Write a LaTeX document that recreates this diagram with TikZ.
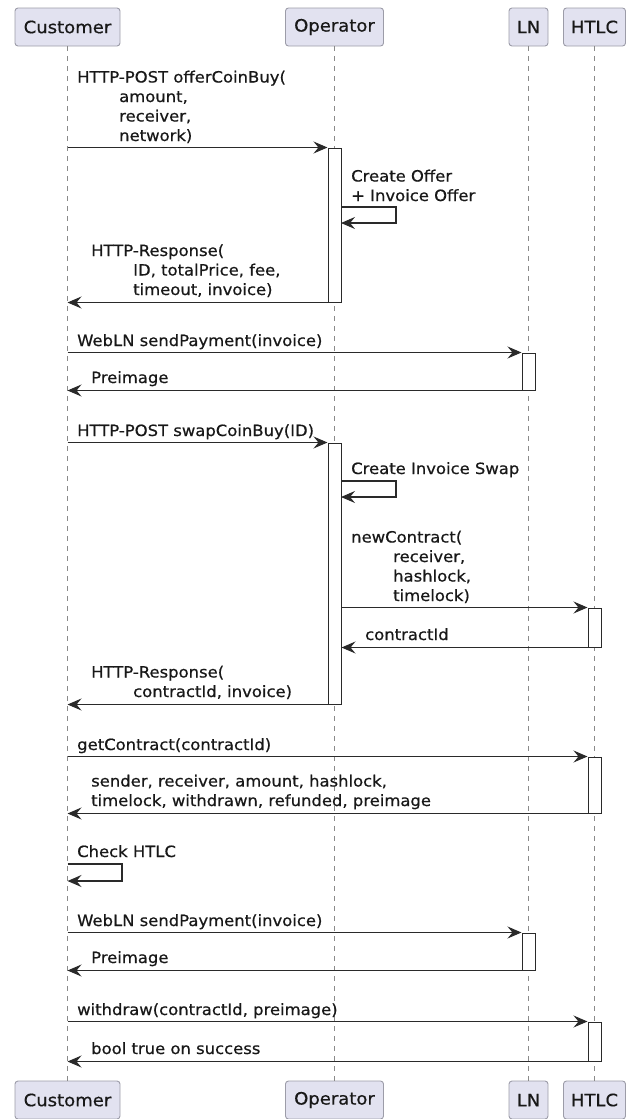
\documentclass[tikz,border=0pt]{standalone}
\usepackage{fontspec}
\setmainfont[FakeStretch=1.06, FakeBold=0.6]{DejaVu Sans}
\usetikzlibrary{arrows.meta,fit}

\definecolor{partfill}{HTML}{E2E2F0}
\definecolor{partline}{HTML}{9C9CA8}
\definecolor{ink}{HTML}{181818}
\definecolor{wire}{HTML}{2A2A2A}
\definecolor{lifegray}{HTML}{8A8A8A}

% stacked message lines; the baseline is that of the first line
\newcommand\msglines[1]{\vtop{\let\\\cr\halign{##\hfil\cr#1\crcr}}}
\newcommand\ind{\hspace*{42pt}}

\tikzset{
  part/.style={draw=partline, fill=partfill, rounded corners=3pt, line width=0.9pt,
    minimum height=38pt, inner sep=0pt, text=ink, font=\fontsize{17}{20}\selectfont},
  life/.style={draw=lifegray, line width=0.8pt, dash pattern=on 5pt off 5pt},
  actbar/.style={draw=wire, fill=white, line width=1pt, inner sep=0pt},
  msg/.style={draw=wire, line width=1.1pt, -{Stealth[length=14pt,width=12pt,inset=5pt]}},
  lbl/.style={anchor=base west, inner sep=0pt, text=ink, font=\fontsize{15.5}{19.5}\selectfont},
}

\begin{document}
\begin{tikzpicture}[x=1pt, y=-1pt]
\path[use as bounding box] (0,0) rectangle (627,1119);

% participants, top and bottom
\node[part, minimum width=105pt] (custT) at (67.5,27) {Customer};
\node[part, minimum width=98pt]  (operT) at (334.5,27) {Operator};
\node[part, minimum width=39pt]  (lnT)   at (528.5,27) {LN};
\node[part, minimum width=62pt]  (htlcT) at (594.5,27) {HTLC};
\node[part, minimum width=105pt] (custB) at (67.5,1100) {Customer};
\node[part, minimum width=98pt]  (operB) at (334.5,1100) {Operator};
\node[part, minimum width=39pt]  (lnB)   at (528.5,1100) {LN};
\node[part, minimum width=62pt]  (htlcB) at (594.5,1100) {HTLC};

% lifelines
\draw[life] (custT.south) -- (custB.north);
\draw[life] (operT.south) -- (operB.north);
\draw[life] (lnT.south) -- (lnB.north);
\draw[life] (htlcT.south) -- (htlcB.north);

% activation bars
\node[actbar, fit={(328,148) (341,302)}] (a1) {};
\node[actbar, fit={(522,353) (535,390)}] (a2) {};
\node[actbar, fit={(328,443) (341,704)}] (a3) {};
\node[actbar, fit={(588,608) (601,647)}] (a4) {};
\node[actbar, fit={(588,757) (601,813)}] (a5) {};
\node[actbar, fit={(522,933) (535,970)}] (a6) {};
\node[actbar, fit={(588,1022) (601,1061)}] (a7) {};

% offer
\node[lbl] (t1) at (77,82.5) {\msglines{HTTP-POST offerCoinBuy(\\\ind amount,\\\ind receiver,\\\ind network)}};
\draw[msg] (a1.north west -| custT) -- (a1.north west);

\node[lbl] (t2) at (351,181.5) {\msglines{Create Offer\\+ Invoice Offer}};
\coordinate (s1) at (341,207);
\draw[msg] (s1) -- ++(55,0) -- ++(0,16) -- ++(-55,0);

\node[lbl] (t3) at (91,256) {\msglines{HTTP-Response(\\\ind ID, totalPrice, fee,\\\ind timeout, invoice)}};
\draw[msg] (a1.south west) -- (a1.south west -| custT);

% first payment
\node[lbl] (t4) at (77,346) {WebLN sendPayment(invoice)};
\draw[msg] (a2.north west -| custT) -- (a2.north west);
\node[lbl] (t5) at (91,383) {Preimage};
\draw[msg] (a2.south west) -- (a2.south west -| custT);

% swap
\node[lbl] (t6) at (77,436) {HTTP-POST swapCoinBuy(ID)};
\draw[msg] (a3.north west -| custT) -- (a3.north west);

\node[lbl] (t7) at (351,474) {Create Invoice Swap};
\coordinate (s2) at (341,481);
\draw[msg] (s2) -- ++(55,0) -- ++(0,16) -- ++(-55,0);

\node[lbl] (t8) at (351,542.5) {\msglines{newContract(\\\ind receiver,\\\ind hashlock,\\\ind timelock)}};
\draw[msg] (a4.north west -| a3.east) -- (a4.north west);
\node[lbl] (t9) at (365,640) {contractId};
\draw[msg] (a4.south west) -- (a4.south west -| a3.east);

\node[lbl] (t10) at (91,677.5) {\msglines{HTTP-Response(\\\ind contractId, invoice)}};
\draw[msg] (a3.south west) -- (a3.south west -| custT);

% contract check
\node[lbl] (t11) at (77,750) {getContract(contractId)};
\draw[msg] (a5.north west -| custT) -- (a5.north west);
\node[lbl] (t12) at (91,786.5) {\msglines{sender, receiver, amount, hashlock,\\timelock, withdrawn, refunded, preimage}};
\draw[msg] (a5.south west) -- (a5.south west -| custT);

\node[lbl] (t13) at (77,857) {Check HTLC};
\coordinate (s3) at (67.5,864);
\draw[msg] (s3) -- ++(54.5,0) -- ++(0,17) -- ++(-54.5,0);

% second payment
\node[lbl] (t14) at (77,926) {WebLN sendPayment(invoice)};
\draw[msg] (a6.north west -| custT) -- (a6.north west);
\node[lbl] (t15) at (91,963) {Preimage};
\draw[msg] (a6.south west) -- (a6.south west -| custT);

% withdrawal
\node[lbl] (t16) at (77,1015) {withdraw(contractId, preimage)};
\draw[msg] (a7.north west -| custT) -- (a7.north west);
\node[lbl] (t17) at (91,1054) {bool true on success};
\draw[msg] (a7.south west) -- (a7.south west -| custT);
\end{tikzpicture}
\end{document}
